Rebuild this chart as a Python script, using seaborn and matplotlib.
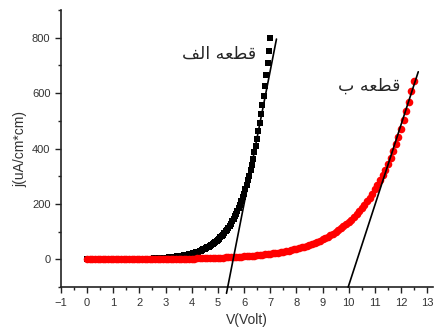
import numpy as np
import pandas as pd
import matplotlib
matplotlib.use("Agg")
import matplotlib.pyplot as plt
import seaborn as sns

# current density (uA/cm*cm), sample A: 0 .. 7 V in 0.05 V steps
j_a = [0.2, 0.2, 0.2, 0.2, 0.2, 0.3, 0.3, 0.3, 0.3, 0.3,
       0.4, 0.4, 0.4, 0.4, 0.5, 0.5, 0.5, 0.6, 0.6, 0.6,
       0.7, 0.7, 0.8, 0.8, 0.8, 0.9, 0.9, 1.0, 1.0, 1.1,
       1.1, 1.2, 1.2, 1.3, 1.4, 1.4, 1.5, 1.6, 1.6, 1.7,
       1.8, 1.9, 2.1, 2.2, 2.3, 2.5, 2.6, 2.8, 3.0, 3.2,
       3.4, 3.6, 3.8, 4.0, 4.3, 4.6, 4.9, 5.2, 5.5, 5.8,
       6.2, 6.6, 7.0, 7.4, 7.9, 8.4, 8.9, 9.5, 10.1, 10.7,
       11.4, 12.1, 12.9, 13.7, 14.5, 15.4, 16.4, 17.4, 18.5, 19.7,
       20.9, 22.2, 23.6, 25.1, 26.7, 28.4, 30.1, 32.0, 34.0, 36.2,
       38.4, 40.8, 43.4, 46.1, 49.0, 52.0, 55.3, 58.8, 62.4, 66.4,
       70.5, 74.9, 79.6, 84.6, 89.9, 95.5, 101.5, 107.9, 114.6, 121.8,
       129.4, 137.5, 146.1, 155.3, 165.0, 175.3, 186.3, 198.0, 210.4, 223.5,
       237.5, 252.4, 268.2, 285.0, 302.8, 321.8, 341.9, 363.3, 386.0, 410.2,
       435.9, 463.2, 492.2, 523.0, 555.7, 590.5, 627.4, 666.7, 708.5, 752.9,
       800.0]

# sample B: 0 .. 12.5 V in 0.1 V steps
j_b = [0.2, 0.3, 0.3, 0.3, 0.3, 0.3, 0.4, 0.4, 0.4, 0.4,
       0.5, 0.5, 0.5, 0.6, 0.6, 0.6, 0.7, 0.7, 0.8, 0.8,
       0.9, 1.0, 1.0, 1.1, 1.2, 1.2, 1.3, 1.4, 1.5, 1.6,
       1.7, 1.8, 1.9, 2.0, 2.2, 2.3, 2.5, 2.6, 2.8, 3.0,
       3.2, 3.4, 3.6, 3.8, 4.1, 4.3, 4.6, 4.9, 5.2, 5.6,
       5.9, 6.3, 6.7, 7.2, 7.6, 8.1, 8.6, 9.2, 9.8, 10.4,
       11.1, 11.8, 12.6, 13.4, 14.2, 15.2, 16.1, 17.2, 18.3, 19.5,
       20.7, 22.1, 23.5, 25.0, 26.6, 28.3, 30.2, 32.1, 34.2, 36.4,
       38.7, 41.2, 43.9, 46.7, 49.7, 52.9, 56.4, 60.0, 63.9, 68.0,
       72.4, 77.0, 82.0, 87.3, 92.9, 98.9, 105.3, 112.1, 119.3, 127.0,
       135.2, 143.9, 153.2, 163.0, 173.6, 184.8, 196.7, 209.4, 222.9, 237.2,
       252.5, 268.8, 286.2, 304.6, 324.3, 345.2, 367.5, 391.2, 416.4, 443.3,
       471.9, 502.3, 534.7, 569.2, 605.9, 645.0]

v_a = np.linspace(0, 7.0, len(j_a))
v_b = np.linspace(0, 12.5, len(j_b))

# tangent lines (end points)
tan_a_v = [5.33, 7.24]
tan_a_j = [-122, 795]
tan_b_v = [9.98, 12.66]
tan_b_j = [-100, 677]

# labels, shaped by hand into presentation forms (visual order)
label_a = "\ufed2\ufedf\ufe8d \ufeea\ufecc\ufec4\ufed7"   # قطعه الف
label_b = "\ufe8f \ufeea\ufecc\ufec4\ufed7"               # قطعه ب

df_a = pd.DataFrame({"V": v_a, "j": j_a})
df_b = pd.DataFrame({"V": v_b, "j": j_b})

sns.set_style("ticks")
plt.rcParams["font.family"] = ["Liberation Sans", "DejaVu Sans"]

fig = plt.figure(figsize=(4.38, 3.32), dpi=100)
ax = fig.add_axes([0.139, 0.135, 0.85, 0.835])

sns.scatterplot(data=df_a, x="V", y="j", marker="s", color="black",
                s=22, linewidth=0, ax=ax, zorder=3)
sns.scatterplot(data=df_b, x="V", y="j", marker="o", color="#ff0000",
                s=30, linewidth=0, ax=ax, zorder=4)
ax.plot(tan_a_v, tan_a_j, color="black", lw=1.2, clip_on=False, zorder=5)
ax.plot(tan_b_v, tan_b_j, color="black", lw=1.2, clip_on=False, zorder=5)

ax.text(6.46, 742, label_a, ha="right", va="center", fontsize=12.5,
        family="DejaVu Sans")
ax.text(11.97, 627, label_b, ha="right", va="center", fontsize=12.5,
        family="DejaVu Sans")

ax.set_xlim(-1, 13.23)
ax.set_ylim(-100, 900)
ax.set_xticks(range(-1, 14))
ax.set_yticks([0, 200, 400, 600, 800])
ax.set_xticks(np.arange(-0.5, 13.2, 1), minor=True)
ax.set_yticks([-100, 100, 300, 500, 700, 900], minor=True)
ax.tick_params(axis="both", which="major", length=4, width=1, labelsize=8,
               labelcolor="#333333", color="#222222")
ax.tick_params(axis="both", which="minor", length=2.5, width=1, color="#222222")
ax.set_xlabel("V(Volt)", fontsize=10, color="#333333", labelpad=4)
ax.set_ylabel("j(uA/cm*cm)", fontsize=10, color="#333333", labelpad=3)
for side in ["left", "bottom"]:
    ax.spines[side].set_linewidth(1.2)
    ax.spines[side].set_color("#222222")
sns.despine(ax=ax)

fig.savefig("out.png", dpi=100)
